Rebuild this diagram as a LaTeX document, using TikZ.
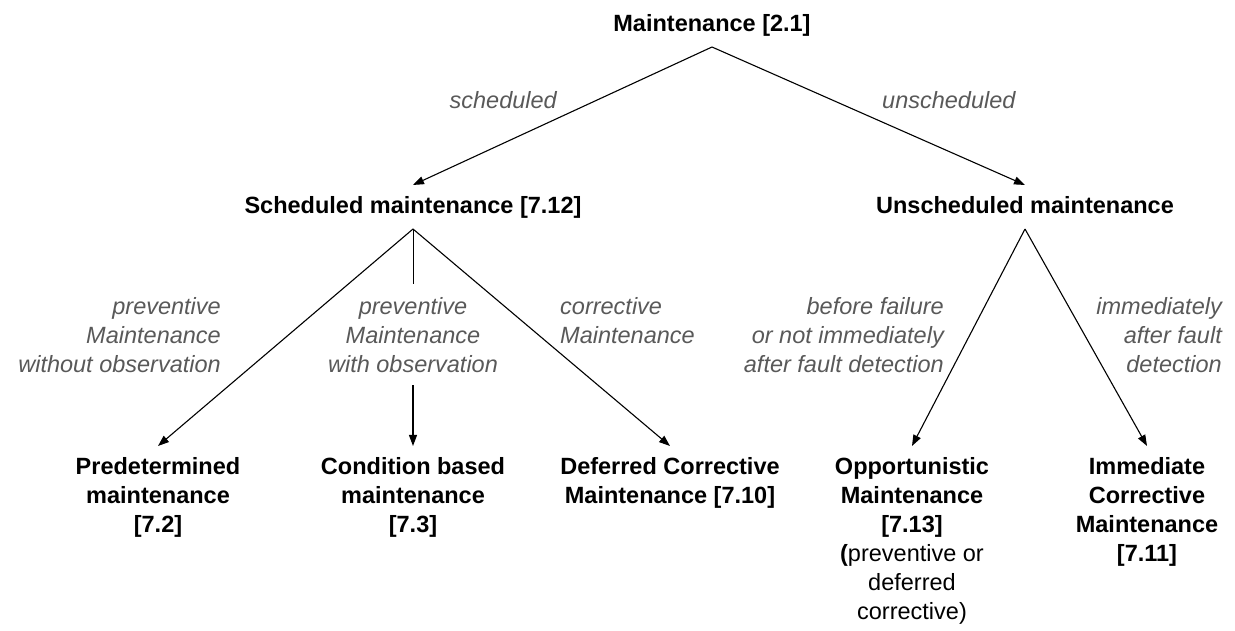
\documentclass[tikz,border=0pt]{standalone}
\usepackage{fontspec}
\setmainfont{Liberation Sans}
\usepackage{xcolor}
\usetikzlibrary{arrows.meta}
\definecolor{labelgray}{RGB}{89,89,89}

\begin{document}
\begin{tikzpicture}[x=1pt, y=-1pt,
  box/.style={font=\fontsize{23.5}{29}\selectfont\bfseries, align=center,
    inner sep=0pt, outer ysep=11pt, text depth=5pt},
  lbl/.style={font=\fontsize{23.5}{29}\selectfont\itshape, text=labelgray,
    inner sep=0pt},
  arr/.style={-{Triangle[length=11pt,width=8pt]}, line width=1.1pt}]

\useasboundingbox (0,0) rectangle (1235,630);

% raiz
\node[box, anchor=base] (M) at (712,31) {Maintenance [2.1]};

% segundo nivel
\node[box, anchor=base] (S) at (413,213) {Scheduled maintenance [7.12]};
\node[box, anchor=base] (U) at (1025,213) {Unscheduled maintenance};

\node[lbl, anchor=base east] (ls) at (557,108) {scheduled};
\node[lbl, anchor=base west] (lu) at (882,108) {unscheduled};

\draw[arr] (M.south) -- (S.north);
\draw[arr] (M.south) -- (U.north);

% folhas (base = ultima linha)
\node[box, anchor=base] (P) at (158,532) {Predetermined\\maintenance\\{[7.2]}};
\node[box, anchor=base] (C) at (413,532) {Condition based\\maintenance\\{[7.3]}};
\node[box, anchor=base] (D) at (670,503) {Deferred Corrective\\Maintenance [7.10]};
\node[box, anchor=base] (O) at (912,619) {Opportunistic\\Maintenance\\{[7.13]}\\
  {\mdseries{\bfseries(}preventive or}\\{\mdseries deferred}\\{\mdseries corrective)}};
\node[box, anchor=base] (I) at (1147,561) {Immediate\\Corrective\\Maintenance\\{[7.11]}};

% rotulos
\node[lbl, align=right, anchor=base east] (lp) at (221,372)
  {preventive\\Maintenance\\without observation};
\node[lbl, align=center, anchor=base, outer ysep=13pt] (wo) at (413,372)
  {preventive\\Maintenance\\with observation};
\node[lbl, align=left, anchor=base west] (lc) at (560,343)
  {corrective\\Maintenance};
\node[lbl, align=right, anchor=base east] (lb) at (944,372)
  {before failure\\or not immediately\\after fault detection};
\node[lbl, align=right, anchor=base east] (li) at (1222,372)
  {immediately\\after fault\\detection};

% setas
\draw[arr] (S.south) -- (P.north);
\draw (S.south) -- (wo.north);
\draw[arr] (wo.south) -- (C.north);
\draw[arr] (S.south) -- (D.north);
\draw[arr] (U.south) -- (O.north);
\draw[arr] (U.south) -- (I.north);

\end{tikzpicture}
\end{document}
